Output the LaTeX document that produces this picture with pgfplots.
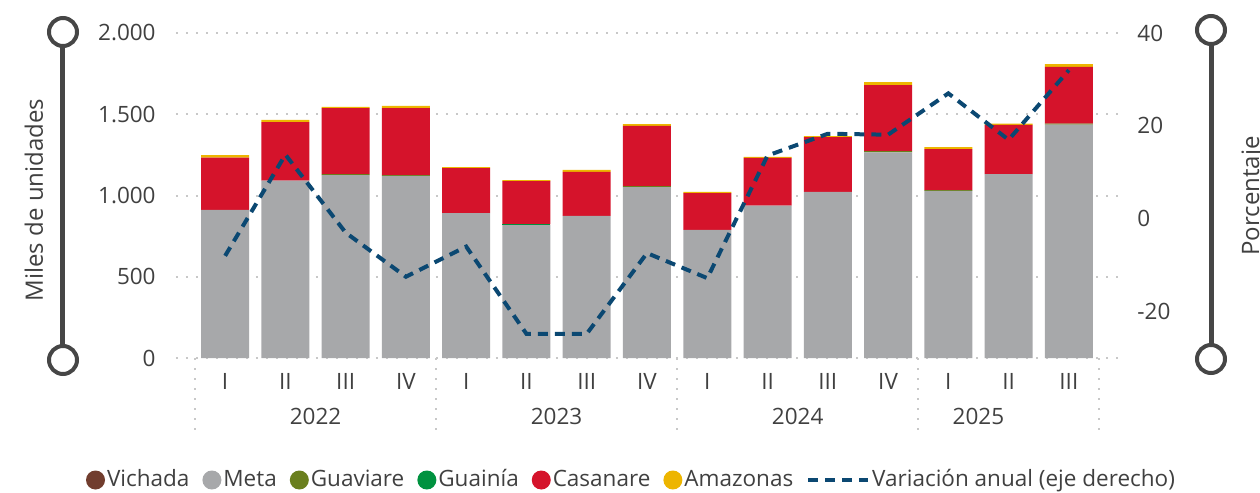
\documentclass[border=0pt]{standalone}
\usepackage{fontspec}
\setmainfont{Open Sans}
\usepackage{pgfplots}
\usepackage{pgfplotstable}
\pgfplotsset{compat=1.18}

\definecolor{txt}{HTML}{404040}
\definecolor{slider}{HTML}{464646}
\definecolor{gridc}{HTML}{C8C8C8}
\definecolor{vichada}{HTML}{713D2E}
\definecolor{meta}{HTML}{A7A8AA}
\definecolor{guaviare}{HTML}{6A7F1E}
\definecolor{guainia}{HTML}{00923F}
\definecolor{casanare}{HTML}{D5132B}
\definecolor{amazonas}{HTML}{EDB500}
\definecolor{varline}{HTML}{0B4872}

% miles de unidades por trimestre; var = variacion anual (%)
\pgfplotstableread{
x  vichada meta guaviare guainia casanare amazonas var
0  0  911 0 0 322 16  -8.0
1  0 1091 0 0 361 13  13.8
2  0 1126 6 0 406  7  -3.0
3  0 1121 4 0 413 13 -12.5
4  0  892 0 0 277  6  -6.0
5  0  818 0 4 267  6 -24.8
6  0  874 0 0 271 12 -24.8
7  0 1052 6 0 370 12  -7.4
8  0  788 0 0 227  7 -12.8
9  0  937 0 0 294  6  13.6
10 0 1022 0 0 338  6  18.3
11 0 1265 8 0 407 18  18.1
12 0 1028 5 0 253 12  27.0
13 0 1132 0 0 302  8  17.0
14 0 1436 6 0 349 18  32.0
}\datos

\pgfplotsset{
  base/.style={
    scale only axis,
    width=471pt, height=162.5pt,
    at={(0,0)}, anchor=south west,
    xmin=-0.815, xmax=14.815,
    axis line style={draw=none},
    tick style={draw=none},
    ticklabel style={inner sep=0pt, text=txt},
  },
  dot/.style={legend image code/.code={\fill[##1,draw=none] (4.75pt,0pt) circle (4.75pt);}},
  dashleg/.style={legend image code/.code={\draw[##1] (0pt,0pt) -- (30pt,0pt);}},
  varstyle/.style={varline, line width=2pt, dash pattern=on 5pt off 3.5pt},
}

\begin{document}
\fontsize{11.25pt}{13.5pt}\selectfont
\begin{tikzpicture}[font=\fontsize{11.25pt}{13.5pt}\selectfont]
\begin{axis}[base,
    ybar stacked, bar width=24pt,
    ymin=0, ymax=2000,
    ytick={0,500,1000,1500,2000},
    yticklabels={0,500,1.000,1.500,2.000},
    yticklabel style={anchor=east, xshift=-10pt},
    ymajorgrids,
    major grid style={draw=gridc, line width=1pt, dash pattern=on 1pt off 4pt},
    xtick={0,...,14},
    xticklabels={I,II,III,IV,I,II,III,IV,I,II,III,IV,I,II,III},
    xticklabel style={anchor=base, yshift=-15.75pt},
    clip=false,
    legend columns=-1,
    legend style={at={(0.4835,0)}, anchor=center, yshift=-61pt,
      draw=none, fill=none, text=txt,
      nodes={inner sep=1pt},
      /tikz/every even column/.append style={column sep=5.5pt}},
]
\addplot[fill=vichada, draw=none, dot] table[x=x, y=vichada] {\datos};
\addlegendentry{Vichada}
\addplot[fill=meta, draw=none, dot] table[x=x, y=meta] {\datos};
\addlegendentry{Meta}
\addplot[fill=guaviare, draw=none, dot] table[x=x, y=guaviare] {\datos};
\addlegendentry{Guaviare}
\addplot[fill=guainia, draw=none, dot] table[x=x, y=guainia] {\datos};
\addlegendentry{Guainía}
\addplot[fill=casanare, draw=none, dot] table[x=x, y=casanare] {\datos};
\addlegendentry{Casanare}
\addplot[fill=amazonas, draw=none, dot] table[x=x, y=amazonas] {\datos};
\addlegendentry{Amazonas}
\addlegendimage{varstyle, dashleg}
\addlegendentry{Variación anual (eje derecho)}

% separadores de anio y etiquetas
\pgfplotsinvokeforeach{-0.5,3.5,7.5,11.5,14.5}{
  \draw[gridc, line width=1pt, dash pattern=on 1pt off 4pt] (axis cs:#1,0) -- ++(0pt,-39.5pt);
}
\node[anchor=base, text=txt, yshift=-33.25pt] at (axis cs:1.5,0) {2022};
\node[anchor=base, text=txt, yshift=-33.25pt] at (axis cs:5.5,0) {2023};
\node[anchor=base, text=txt, yshift=-33.25pt] at (axis cs:9.5,0) {2024};
\node[anchor=base, text=txt, yshift=-33.25pt] at (axis cs:12.5,0) {2025};
\end{axis}

\begin{axis}[base,
    ymin=-30, ymax=40,
    axis y line*=right, axis x line=none,
    xtick=\empty,
    ytick={-20,0,20,40},
    yticklabels={-20,0,20,40},
    yticklabel style={anchor=west, xshift=9.5pt},
]
\addplot[varstyle] table[x=x, y=var] {\datos};
\end{axis}

% ejes laterales tipo deslizador
\draw[slider, line width=2.5pt] (-56.5pt,-1pt) -- (-56.5pt,163pt);
\draw[slider, line width=2pt, fill=white] (-56.5pt,163pt) circle (7pt);
\draw[slider, line width=2pt, fill=white] (-56.5pt,-1pt) circle (7pt);
\draw[slider, line width=2.5pt] (517.5pt,-0.5pt) -- (517.5pt,164pt);
\draw[slider, line width=2pt, fill=white] (517.5pt,164pt) circle (7pt);
\draw[slider, line width=2pt, fill=white] (517.5pt,-0.5pt) circle (7pt);

\node[rotate=90, anchor=base, text=txt, font=\fontsize{12pt}{14pt}\selectfont] at (-66.5pt,79pt) {Miles de unidades};
\node[rotate=90, anchor=base, text=txt, font=\fontsize{12pt}{14pt}\selectfont] at (541.5pt,81pt) {Porcentaje};

\pgfresetboundingbox
\useasboundingbox (-88pt,-67.5pt) rectangle (542pt,179pt);
\end{tikzpicture}
\end{document}
